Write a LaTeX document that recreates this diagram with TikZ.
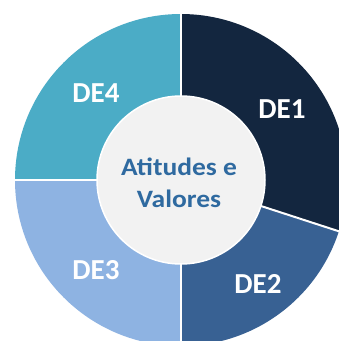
\documentclass[tikz,border=0pt]{standalone}
\usepackage{fontspec}
\setmainfont{Carlito}
\definecolor{deone}{HTML}{13263F}
\definecolor{detwo}{HTML}{386193}
\definecolor{dethree}{HTML}{8EB3E2}
\definecolor{defour}{HTML}{4BACC6}
\definecolor{hub}{HTML}{F2F2F2}
\definecolor{hubtext}{HTML}{2F6AA0}
\tikzset{
  seglabel/.style={text=white, font=\fontsize{29}{30}\selectfont\bfseries, inner sep=0pt},
  hublabel/.style={text=hubtext, font=\fontsize{25}{32}\selectfont\bfseries, align=center, inner sep=0pt, xscale=1.1},
  divider/.style={white, line width=2pt}
}
\begin{document}
\begin{tikzpicture}[x=1pt,y=1pt]
\useasboundingbox (0,0) rectangle (339,341);
\fill[white] (0,0) rectangle (339,341);
\clip (0,0) rectangle (339,341);
\coordinate (c) at (181,161);
\fill[deone] (c) -- ++(90:166) arc[start angle=90,end angle=-18,radius=166] -- cycle;
\fill[detwo] (c) -- ++(-18:166) arc[start angle=-18,end angle=-90,radius=166] -- cycle;
\fill[dethree] (c) -- ++(-90:166) arc[start angle=-90,end angle=-180,radius=166] -- cycle;
\fill[defour] (c) -- ++(180:166) arc[start angle=180,end angle=90,radius=166] -- cycle;
\draw[divider] (c) -- ++(90:170);
\draw[divider] (c) -- ++(-18:170);
\draw[divider] (c) -- ++(-90:170);
\draw[divider] (c) -- ++(180:170);
\fill[hub, draw=white, line width=1.5pt] (c) circle (84);
\node[seglabel] (de1) at (282,232) {DE1};
\node[seglabel] (de2) at (258,57) {DE2};
\node[seglabel] (de3) at (96,71) {DE3};
\node[seglabel] (de4) at (96,248) {DE4};
\node[hublabel] (hub) at (179,158) {Atitudes e\\Valores};
\end{tikzpicture}
\end{document}
